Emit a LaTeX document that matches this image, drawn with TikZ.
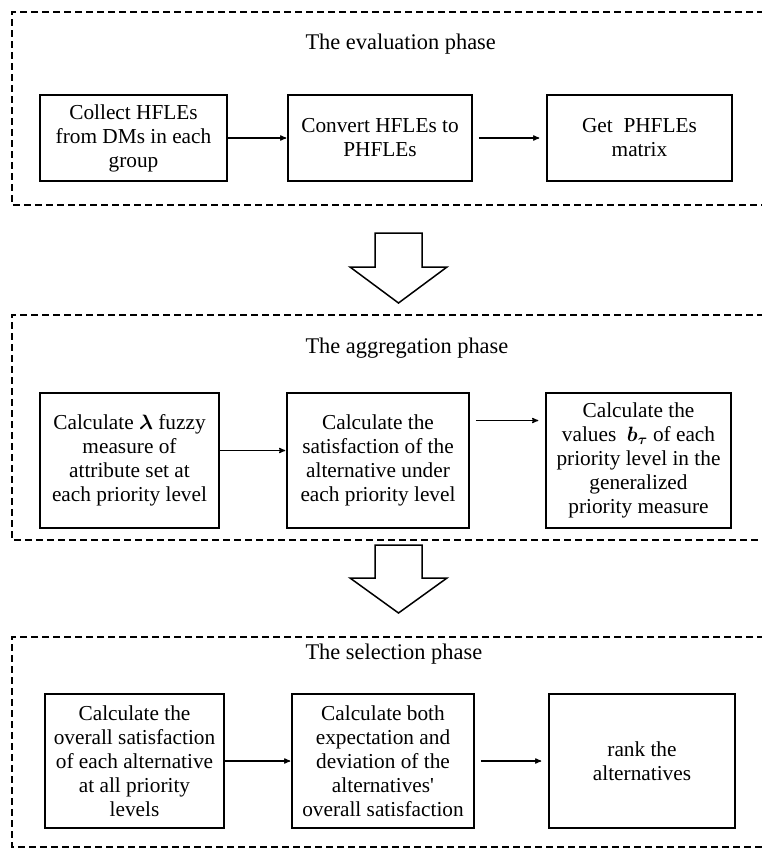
\documentclass[tikz,border=0pt]{standalone}
\usepackage{amsmath}
\usepackage{fontspec}
\setmainfont{Liberation Serif}
\usetikzlibrary{arrows}
\tikzset{
	stage/.style={draw,line width=1.5pt,align=center,inner sep=0pt,font=\fontsize{21.3}{24}\selectfont},
	phase/.style={anchor=west,font=\fontsize{22.4}{26}\selectfont},
	frame/.style={line width=1.1pt,dash pattern=on 7pt off 4pt},
	bigarrow/.style={line width=1.5pt,line join=miter},
	gap/.style={shorten <=6pt,shorten >=7pt}
}

\begin{document}
\begin{tikzpicture}[x=1pt,y=-1pt,>=stealth',shorten >=1pt,auto]
\useasboundingbox (0,0) rectangle (761,849);

\draw[frame] (775,12) -- (12,12) -- (12,205) -- (775,205);
\draw[frame] (775,315) -- (12,315) -- (12,540) -- (775,540);
\draw[frame] (775,637) -- (12,637) -- (12,847) -- (775,847);

\node[phase]   (t1) at (302,44)   {The evaluation phase};
\node[phase]   (t2) at (302,348)  {The aggregation phase};
\node[phase]   (t3) at (302,654)  {The selection phase};

\node[stage,minimum width=187pt,minimum height=86pt]   (e1) at (133.5,138)  {Collect HFLEs\\from DMs in each\\group};
\node[stage,minimum width=184pt,minimum height=86pt]   (e2) at (380,138)    {Convert HFLEs to\\PHFLEs};
	\node[stage,minimum width=185pt,minimum height=86pt]   (e3) at (639.5,138)  {Get~~PHFLEs\\matrix};

\node[stage,minimum width=179pt,minimum height=135pt]   (a1) at (129.5,460.5)  {Calculate $\boldsymbol{\lambda}$ fuzzy\\measure of\\attribute set at\\each priority level};
\node[stage,minimum width=182pt,minimum height=135pt]   (a2) at (378,460.5)    {Calculate the\\satisfaction of the\\alternative under\\each priority level};
	\node[stage,minimum width=185pt,minimum height=135pt]   (a3) at (638.5,460.5)  {Calculate the\\values~~$\boldsymbol{b_\tau}$ of each\\priority level in the\\generalized\\priority measure};

\node[stage,minimum width=179pt,minimum height=134pt]   (s1) at (134.5,761)  {Calculate the\\overall satisfaction\\of each alternative\\at all priority\\levels};
\node[stage,minimum width=182pt,minimum height=134pt]   (s2) at (383,761)    {Calculate both\\expectation and\\deviation of the\\alternatives\textquotesingle\\overall satisfaction};
	\node[stage,minimum width=186pt,minimum height=134pt]   (s3) at (642,761)    {rank the\\alternatives};

\draw[bigarrow] (375,233) -- (422,233) -- (422,267) -- (447,267) -- (398.5,303) -- (350,267) -- (375,267) -- cycle;
\draw[bigarrow] (375,545) -- (422,545) -- (422,578) -- (447,578) -- (398.5,613) -- (350,578) -- (375,578) -- cycle;

\path[->,line width=1.2pt] (e1)  edge  (e2)
		(e2)  edge[gap]  (e3)
	([yshift=10pt]a1.east)  edge  ([yshift=10pt]a2.west)
	([yshift=40pt]a2.east)  edge[gap]  ([yshift=40pt]a3.west)
		(s1)  edge  (s2)
		(s2)  edge[gap]  (s3);

\end{tikzpicture}
\end{document}
